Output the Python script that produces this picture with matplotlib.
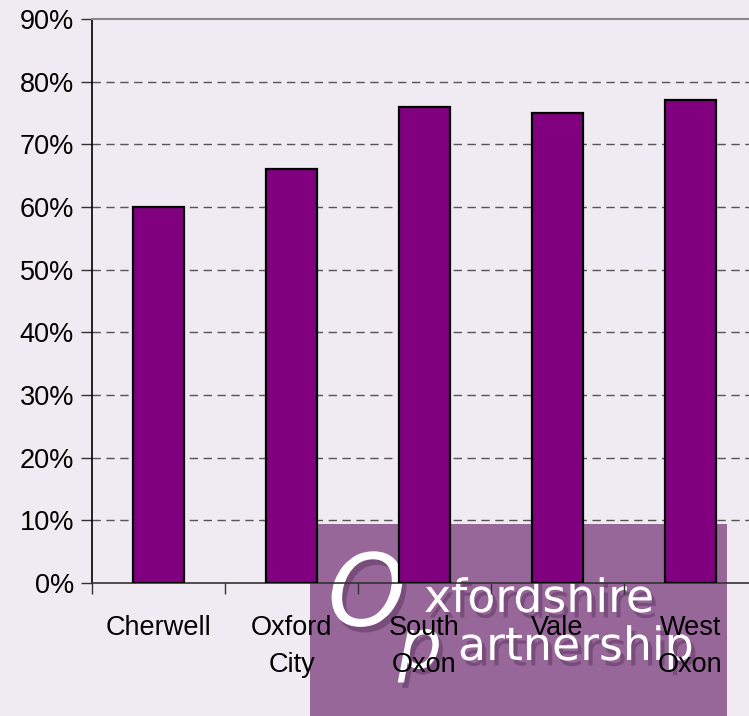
import matplotlib
matplotlib.use("Agg")
import matplotlib.pyplot as plt
from matplotlib.patches import Rectangle
import matplotlib.patheffects as pe

categories = ["Cherwell", "Oxford\nCity", "South\nOxon", "Vale", "West\nOxon"]
values = [60, 66, 76, 75, 77]
yticks = [0, 10, 20, 30, 40, 50, 60, 70, 80, 90]
ytick_labels = [f"{v}%" for v in yticks]

plt.rcParams['font.family'] = ['Liberation Sans', 'DejaVu Sans']

bg = '#F0EAF2'
fig = plt.figure(figsize=(7.49, 7.16), dpi=100, facecolor=bg)

# watermark logo behind chart
fig.patches.append(Rectangle((310/749, 0), (727-310)/749, (716-524)/716,
                             transform=fig.transFigure, facecolor='#98679A',
                             edgecolor='none', zorder=-5))

def shadow():
    return [pe.SimplePatchShadow(offset=(3, -4), shadow_rgbFace='#5a3560', alpha=0.5), pe.Normal()]

fig.text(367/749, 1 - 598/716, "O", fontsize=72, color='white', style='italic',
         ha='center', va='center', zorder=-4, family='DejaVu Sans', path_effects=shadow())
fig.text(424/749, 1 - 612/716, "xfordshire", fontsize=33, color='white',
         ha='left', va='baseline', zorder=-4, family='DejaVu Sans', path_effects=shadow())
fig.text(420/749, 1 - 668/716, "p", fontsize=50, color='white', style='italic',
         ha='center', va='baseline', zorder=-4, family='DejaVu Sans', path_effects=shadow())
fig.text(458/749, 1 - 660/716, "artnership", fontsize=33, color='white',
         ha='left', va='baseline', zorder=-4, family='DejaVu Sans', path_effects=shadow())

ax = fig.add_axes([92/749, 133/716, 665/749, 564/716])
ax.set_facecolor('none')

x = list(range(len(categories)))
ax.bar(x, values, width=0.39, color='#800080', edgecolor='black', linewidth=1.6, zorder=3)

ax.set_xlim(-0.5, len(categories) - 0.5)
ax.set_ylim(0, 90)
ax.set_yticks(yticks)
ax.set_yticklabels(ytick_labels)
for v in yticks[1:-1]:
    ax.axhline(v, color='#555555', linestyle=(0, (6, 4)), linewidth=1.0, zorder=1)

ax.set_xticks([i - 0.5 for i in range(len(categories))])
ax.set_xticklabels([])
ax.set_xticks(x, minor=True)
ax.set_xticklabels(categories, minor=True, fontsize=19.5, linespacing=1.55)
ax.tick_params(axis='x', which='minor', length=0, pad=23)
ax.tick_params(axis='x', which='major', length=8, width=1, color='#333333', direction='out')
ax.tick_params(axis='y', length=8, width=1, color='#333333', direction='out', labelsize=19.5, pad=5)

ax.spines['top'].set_color('#888888')
ax.spines['top'].set_linewidth(1.5)
ax.spines['right'].set_visible(False)
ax.spines['left'].set_color('black')
ax.spines['bottom'].set_color('#333333')
ax.spines['left'].set_linewidth(1.2)
ax.spines['bottom'].set_linewidth(1.2)

fig.savefig('out.png', dpi=100, facecolor=bg)
